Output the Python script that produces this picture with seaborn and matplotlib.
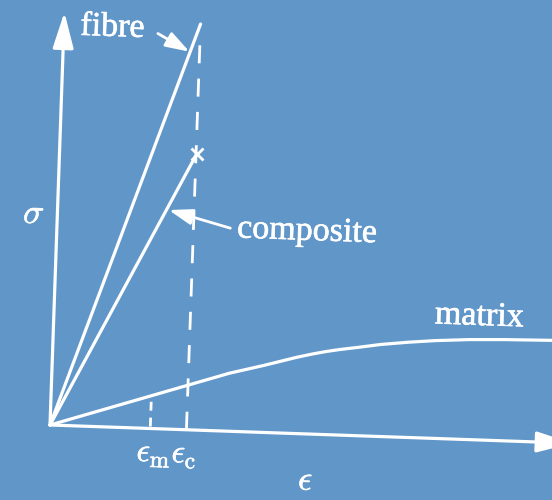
import matplotlib
matplotlib.use("Agg")
import matplotlib.pyplot as plt
import matplotlib.patheffects as pe
from matplotlib.transforms import Affine2D
import seaborn as sns

# Stress-strain curves (strain in units of the composite failure strain,
# stress in arbitrary units)
fibre_strain = [0.0, 1.0]
fibre_stress = [0.0, 4.06]
composite_strain = [0.0, 1.005]
composite_stress = [0.0, 2.76]
matrix_strain = [0.0, 1.30, 1.55, 1.79, 1.90, 2.00, 2.10, 2.22, 2.40, 2.60,
                 2.80, 3.05, 3.30, 3.80]
matrix_stress = [0.0, 0.58, 0.67, 0.763, 0.800, 0.830, 0.855, 0.880, 0.920,
                 0.952, 0.978, 1.000, 1.012, 1.025]

eps_m = 0.735          # matrix strain marker
eps_c = 1.0            # composite failure strain
eps_c_top = 3.92       # top of the failure-strain guide line
sigma_axis_top = 4.13
eps_axis_end = 3.83

labels = {
    "fibre": (0.12, 3.91),
    "composite": (1.32, 1.94),
    "matrix": (2.79, 1.15),
}

BG = "#6196C9"
FG = "white"

sns.set_style("white", {"axes.facecolor": BG, "figure.facecolor": BG})
plt.rcParams["mathtext.fontset"] = "cm"

fig = plt.figure(figsize=(5.52, 5.0), dpi=100)
ax = fig.add_axes([0, 0, 1, 1])
ax.set_xlim(-50 / 136.5, 502 / 136.5)
ax.set_ylim(-0.75, 4.25)
ax.set_axis_off()

# the whole diagram is tilted slightly clockwise about the origin
ox, oy = ax.transData.transform((0.0, 0.0))
rot = ax.transData + Affine2D().rotate_deg_around(ox, oy, -2.0)

LW = 2.3
for xs, ys in [(fibre_strain, fibre_stress),
               (composite_strain, composite_stress),
               (matrix_strain, matrix_stress)]:
    sns.lineplot(x=xs, y=ys, ax=ax, color=FG, lw=LW, sort=False,
                 estimator=None, legend=False)
    line = ax.lines[-1]
    line.set_transform(rot)
    line.set_solid_capstyle("round")
    line.set_solid_joinstyle("round")

# failure marker on the composite curve
ax.plot([composite_strain[-1]], [composite_stress[-1]], marker="x", ms=9,
        mew=2.0, color=FG, transform=rot, ls="none")

# dashed guide lines
ax.plot([eps_c, eps_c], [0.0, eps_c_top], color=FG, lw=2.0,
        dashes=(6.5, 5.5), transform=rot)
m_top = 0.272
ax.plot([eps_m, eps_m], [0.02, m_top], color=FG, lw=2.0,
        dashes=(3.2, 2.5), transform=rot)

# axes with arrow heads
arrow_axis = dict(arrowstyle="-|>,head_length=1.1,head_width=0.32",
                  color=FG, lw=LW, shrinkA=0, shrinkB=0, mutation_scale=20)
ax.annotate("", xy=(0.0, sigma_axis_top), xytext=(0.0, 0.0),
            xycoords=rot, textcoords=rot, arrowprops=arrow_axis)
ax.annotate("", xy=(eps_axis_end, 0.0), xytext=(0.0, 0.0),
            xycoords=rot, textcoords=rot, arrowprops=arrow_axis)

# pointer arrows to the curves
arrow_ptr = dict(arrowstyle="-|>,head_length=0.9,head_width=0.3",
                 color=FG, lw=2.0, shrinkA=0, shrinkB=0, mutation_scale=16)
ax.annotate("", xy=(0.925, 3.78), xytext=(0.69, 3.95),
            xycoords=rot, textcoords=rot, arrowprops=arrow_ptr)
ax.annotate("", xy=(0.815, 2.19), xytext=(1.27, 2.03),
            xycoords=rot, textcoords=rot, arrowprops=arrow_ptr)

# labels, with a thin outline to give the heavier printed look
heavy = [pe.withStroke(linewidth=0.45, foreground=FG)]
text_kw = dict(color=FG, transform=rot, rotation=-2.0, rotation_mode="anchor",
               ha="left", va="baseline", path_effects=heavy)
for name, (lx, ly) in labels.items():
    ax.text(lx, ly, name, family="Liberation Serif", fontsize=24.5, **text_kw)

ax.text(-0.25, 2.01, r"$\sigma$", fontsize=25, **text_kw)
ax.text(0.64, -0.33, r"$\epsilon_{\mathrm{m}}\epsilon_{\mathrm{c}}$",
        fontsize=24, **text_kw)
ax.text(1.83, -0.56, r"$\epsilon$", fontsize=25, **text_kw)

fig.savefig("out.png", dpi=100, facecolor=BG)
